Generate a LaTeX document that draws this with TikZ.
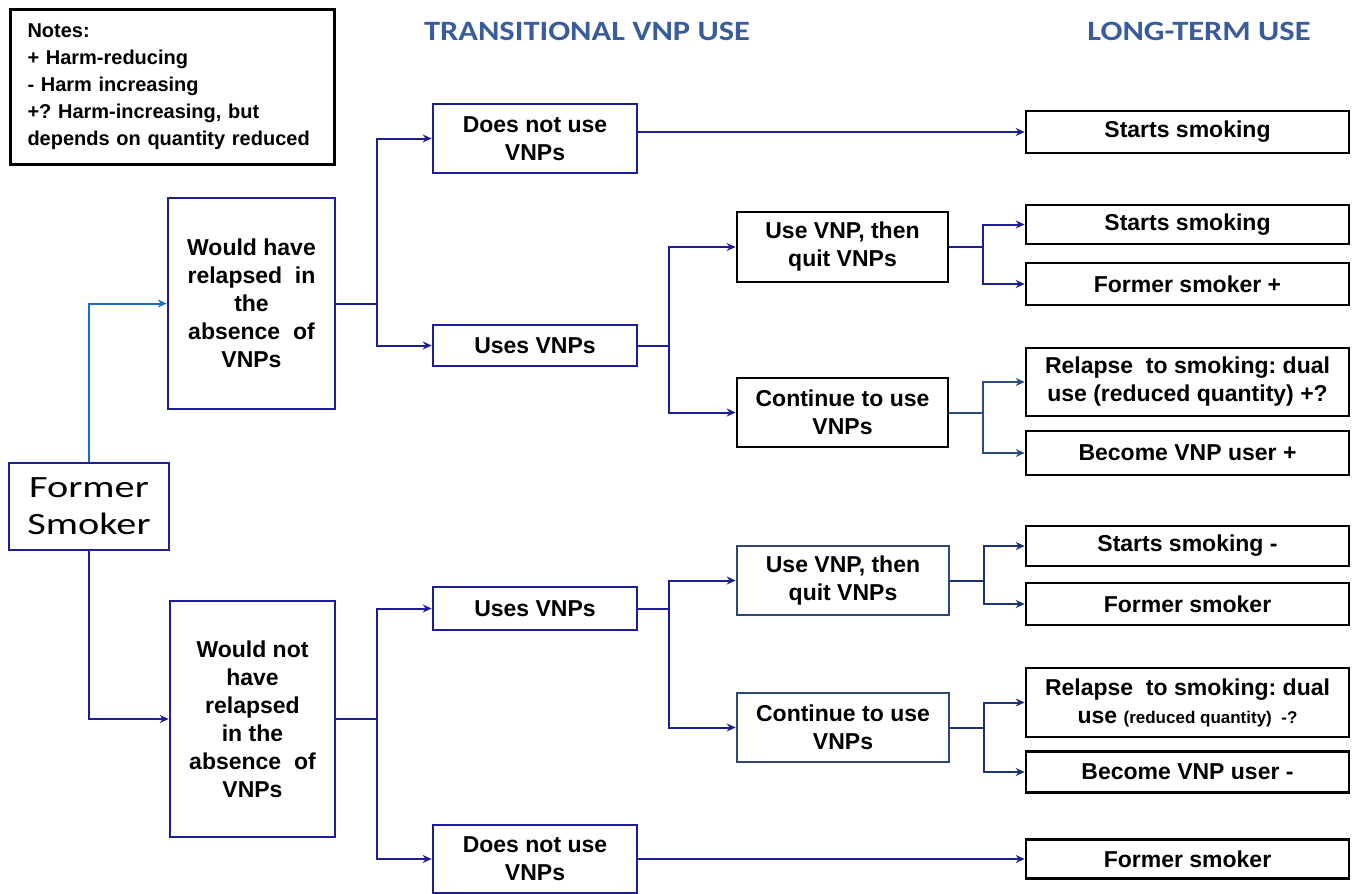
\documentclass[tikz,border=0pt]{standalone}
\usepackage{fontspec}
\setmainfont{Liberation Sans}
\newfontfamily\headfont[FakeStretch=1.16]{Carlito}
\newfontfamily\bigfont[FakeStretch=1.3]{Carlito}
\usetikzlibrary{arrows.meta}
\frenchspacing

\definecolor{navy}{RGB}{30,30,150}
\definecolor{skyline}{RGB}{25,110,200}
\definecolor{slateline}{RGB}{45,75,135}
\definecolor{deepslate}{RGB}{30,50,120}
\definecolor{slatebox}{RGB}{50,70,115}
\definecolor{headblue}{RGB}{58,92,155}

\tikzset{
  box/.style={draw=navy, line width=1.3pt, rectangle, align=center, inner sep=2pt,
    font=\bfseries\fontsize{11.5}{14}\selectfont},
  blackbox/.style={box, draw=black},
  greybox/.style={box, draw=slatebox},
  outcome/.style={blackbox, minimum width=161.5pt},
  head/.style={font=\headfont\bfseries\fontsize{14}{16}\selectfont, text=headblue},
  conn/.style={draw=navy, line width=1pt, -{Stealth[length=4.5pt,width=4pt]}},
}

\begin{document}
\begin{tikzpicture}[x=0.5pt, y=-0.5pt]

\useasboundingbox (0,0) rectangle (1360,894);

% notes and headings
\node (notes) [draw, line width=1.5pt, anchor=north west, align=left,
  minimum width=162pt, minimum height=77.5pt, inner xsep=8.5pt, text width=145pt,
  font=\bfseries\fontsize{10}{13.5}\selectfont] at (9,8)
  {Notes:\\+ Harm-reducing\\- Harm increasing\\+? Harm-increasing, but\\depends on quantity reduced};
\node (hdtrans) [head] at (587,31) {TRANSITIONAL VNP USE};
\node (hdlong) [head] at (1199,31) {LONG-TERM USE};

% first level
\node (fs) [box, minimum width=80pt, minimum height=43.5pt,
  font=\bigfont\fontsize{15.5}{18.5}\selectfont] at (89,506.5) {Former\\Smoker};
\node (wh) [box, minimum width=83.5pt, minimum height=105.5pt] at (251.5,303.5)
  {Would have\\relapsed\ \ in\\the\\absence\ \ of\\VNPs};
\node (wn) [box, minimum width=82.5pt, minimum height=118pt] at (252.5,719)
  {Would not\\have\\relapsed\\in the\\absence\ \ of\\VNPs};

% transitional use
\node (dn1) [box, minimum width=102pt, minimum height=34.5pt] at (535,138.5) {Does not use\\VNPs};
\node (uv1) [box, minimum width=102pt, minimum height=20.5pt] at (535,345.5) {Uses VNPs};
\node (uq1) [blackbox, minimum width=105.5pt, minimum height=35pt] at (842.5,247) {Use VNP, then\\quit VNPs};
\node (ct1) [blackbox, minimum width=105.5pt, minimum height=34.5pt] at (842.5,412.5) {Continue to use\\VNPs};

\node (uv2) [box, minimum width=102pt, minimum height=21.5pt] at (535,608.5) {Uses VNPs};
\node (dn2) [box, minimum width=102pt, minimum height=34pt] at (535,859) {Does not use\\VNPs};
\node (uq2) [greybox, minimum width=106pt, minimum height=34.5pt] at (843,580.5) {Use VNP, then\\quit VNPs};
\node (ct2) [greybox, minimum width=106pt, minimum height=34.5pt] at (843,727.5) {Continue to use\\VNPs};

% long-term use
\node (ss1) [outcome, minimum height=21pt] at (1187.5,132) {Starts smoking};
\node (ss2) [outcome, minimum height=19.5pt] at (1187.5,224.5) {Starts smoking};
\node (fsp) [outcome, minimum height=21pt] at (1187.5,284) {Former smoker +};
\node (rl1) [outcome, minimum height=34pt] at (1187.5,382) {Relapse\ \ to smoking:\ dual\\use (reduced quantity) +?};
\node (bv1) [outcome, minimum height=22pt] at (1187.5,453) {Become VNP user +};

\node (ss3) [outcome, minimum height=20pt] at (1187.5,546) {Starts smoking -};
\node (fs2) [outcome, minimum height=21pt] at (1187.5,604) {Former smoker};
\node (rl2) [outcome, minimum height=34.5pt] at (1187.5,702.5)
  {Relapse\ \ to smoking:\ dual\\use {\fontsize{8.5}{14}\selectfont(reduced quantity)\ \ -?}};
\node (bv2) [outcome, minimum height=20.5pt] at (1187.5,772) {Become VNP user -};
\node (fs3) [outcome, minimum height=19.5pt] at (1187.5,859) {Former smoker};

% connectors
\draw[conn, draw=skyline] (fs.north) |- (wh.west);
\draw[conn] (fs.south) |- (wn.west);

\draw[conn] (wh.east) -- ++(41,0) |- (dn1.west);
\draw[conn] (wh.east) -- ++(41,0) |- (uv1.west);
\draw[conn] (dn1.east |- ss1.west) -- (ss1.west);
\draw[conn] (uv1.east) -- ++(31,0) |- (uq1.west);
\draw[conn] (uv1.east) -- ++(31,0) |- (ct1.west);
\draw[conn] (uq1.east) -- ++(34,0) |- (ss2.west);
\draw[conn] (uq1.east) -- ++(34,0) |- (fsp.west);
\draw[conn, draw=slateline] (ct1.east) -- ++(34,0) |- (rl1.west);
\draw[conn, draw=slateline] (ct1.east) -- ++(34,0) |- (bv1.west);

\draw[conn] (wn.east) -- ++(41,0) |- (uv2.west);
\draw[conn] (wn.east) -- ++(41,0) |- (dn2.west);
\draw[conn] (dn2.east) -- (fs3.west);
\draw[conn] (uv2.east) -- ++(31,0) |- (uq2.west);
\draw[conn] (uv2.east) -- ++(31,0) |- (ct2.west);
\draw[conn, draw=deepslate] (uq2.east) -- ++(34,0) |- (ss3.west);
\draw[conn, draw=deepslate] (uq2.east) -- ++(34,0) |- (fs2.west);
\draw[conn, draw=deepslate] (ct2.east) -- ++(34,0) |- (rl2.west);
\draw[conn, draw=deepslate] (ct2.east) -- ++(34,0) |- (bv2.west);

\end{tikzpicture}
\end{document}
